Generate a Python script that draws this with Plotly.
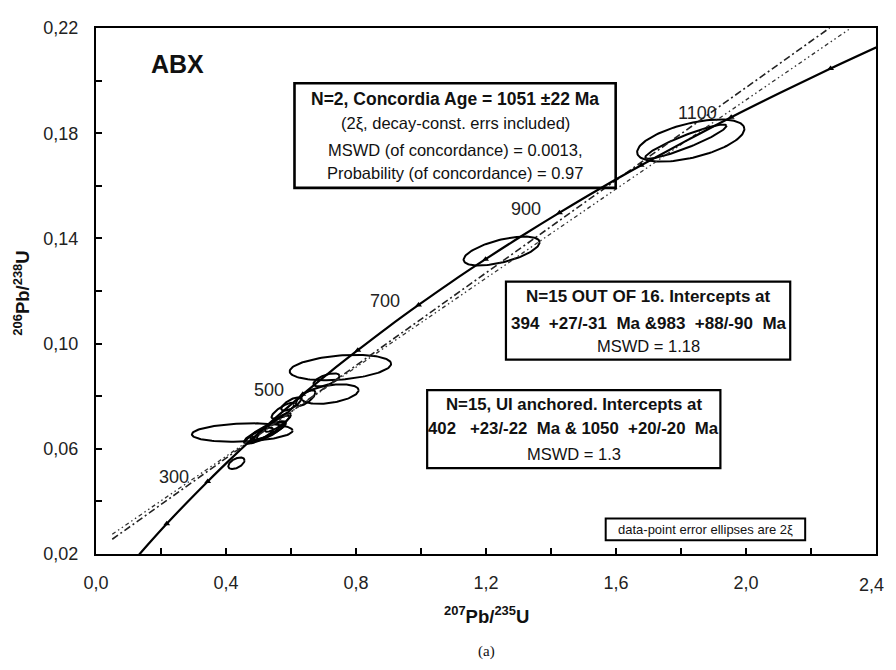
import numpy as np
import plotly.graph_objects as go

# ---------------- data ----------------
# Concordia curve (207Pb/235U, 206Pb/238U) at 50 Ma steps, 100..1250 Ma
conc_age = [100, 150, 200, 250, 300, 350, 400, 450, 500, 550, 600, 650,
            700, 750, 800, 850, 900, 950, 1000, 1050, 1100, 1150, 1200, 1250]
conc_x = [0.1035, 0.1592, 0.2177, 0.2792, 0.3437, 0.4116, 0.4828, 0.5577,
          0.6363, 0.7189, 0.8056, 0.8968, 0.9925, 1.0931, 1.1987, 1.3097,
          1.4263, 1.5488, 1.6774, 1.8126, 1.9545, 2.1037, 2.2603, 2.4249]
conc_y = [0.0156, 0.0235, 0.0315, 0.0395, 0.0476, 0.0558, 0.0640, 0.0723,
          0.0807, 0.0891, 0.0975, 0.1061, 0.1147, 0.1234, 0.1321, 0.1409,
          0.1498, 0.1588, 0.1678, 0.1769, 0.1861, 0.1953, 0.2046, 0.2140]

# Age tick marks on concordia (every 100 Ma)
tick_age = [200, 300, 400, 500, 600, 700, 800, 900, 1000, 1100, 1200]
tick_x = [0.2177, 0.3437, 0.4828, 0.6363, 0.8056, 0.9925, 1.1987, 1.4263, 1.6774, 1.9545, 2.2603]
tick_y = [0.0315, 0.0476, 0.0640, 0.0807, 0.0975, 0.1147, 0.1321, 0.1498, 0.1678, 0.1861, 0.2046]
label_ages = ["300", "500", "700", "900", "1100"]
label_x = [0.3437, 0.6363, 0.9925, 1.4263, 1.9545]
label_y = [0.0476, 0.0807, 0.1147, 0.1498, 0.1861]

# Discordia lines (end points)
discA_x = [0.05, 2.257]
discA_y = [0.0256, 0.2200]
discB_x = [0.05, 2.323]
discB_y = [0.0275, 0.2200]

# Data-point error ellipses: centre x, centre y, half-extent x, half-extent y, correlation
ell_cx = [1.830, 1.815, 1.248, 0.752, 0.709, 0.720, 0.645, 0.450, 0.432,
          0.520, 0.530, 0.545, 0.500, 0.560, 0.575, 0.600]
ell_cy = [0.1772, 0.1768, 0.1352, 0.0909, 0.0862, 0.0808, 0.0793, 0.0662, 0.0545,
          0.0660, 0.0670, 0.0682, 0.0650, 0.0700, 0.0745, 0.0770]
ell_sx = [0.165, 0.125, 0.117, 0.156, 0.040, 0.088, 0.030, 0.155, 0.025,
          0.060, 0.055, 0.050, 0.045, 0.040, 0.035, 0.030]
ell_sy = [0.0080, 0.0065, 0.0055, 0.0048, 0.0025, 0.0037, 0.0030, 0.0035, 0.0022,
          0.0040, 0.0035, 0.0045, 0.0030, 0.0035, 0.0030, 0.0025]
ell_rho = [0.55, 0.92, 0.60, 0.30, 0.60, 0.40, 0.70, 0.20, 0.50,
           0.85, 0.80, 0.90, 0.80, 0.85, 0.80, 0.70]

x_ticks = [0.0, 0.4, 0.8, 1.2, 1.6, 2.0, 2.4]
x_ticktext = ["0,0", "0,4", "0,8", "1,2", "1,6", "2,0", "2,4"]
y_ticks = [0.02, 0.06, 0.10, 0.14, 0.18, 0.22]

# ---------------- figure ----------------
FONT = "Liberation Sans, Arial, sans-serif"
OFF = 8                      # default body margin of the html page
W, H = 896 - 2 * OFF, 670 - 2 * OFF
X0W, X1W, Y0W, Y1W = 96, 878, 21, 554   # plot area in window pixels
L, T = X0W - OFF, Y0W - OFF
R, B = W - (X1W - OFF), H - (Y1W - OFF)
PW, PH = X1W - X0W, Y1W - Y0W


def px(xw):
    return (xw - X0W) / PW


def py(yw):
    return (Y1W - yw) / PH


fig = go.Figure()

# ellipses
th = np.linspace(0, 2 * np.pi, 120)
ex, ey = [], []
for cx, cy, sx, sy, r in zip(ell_cx, ell_cy, ell_sx, ell_sy, ell_rho):
    ex += list(cx + sx * np.cos(th)) + [None]
    ey += list(cy + sy * (r * np.cos(th) + np.sqrt(1 - r * r) * np.sin(th))) + [None]
fig.add_trace(go.Scatter(x=ex, y=ey, mode="lines",
                         line=dict(color="black", width=2), hoverinfo="skip"))

# discordia lines
fig.add_trace(go.Scatter(x=discA_x, y=discA_y, mode="lines",
                         line=dict(color="#222", width=1.6, dash="7px,3px,2px,3px")))
fig.add_trace(go.Scatter(x=discB_x, y=discB_y, mode="lines",
                         line=dict(color="#333", width=1.3, dash="4px,3px,1.5px,3px,1.5px,3px")))

# concordia
fig.add_trace(go.Scatter(x=conc_x, y=conc_y, mode="lines",
                         line=dict(color="black", width=2.2, shape="spline")))
fig.add_trace(go.Scatter(x=tick_x, y=tick_y, mode="markers",
                         marker=dict(symbol="triangle-up", size=6, color="black")))

annotations = []
for lab, lx, ly in zip(label_ages, label_x, label_y):
    annotations.append(dict(x=lx, y=ly, xref="x", yref="y", text=lab, showarrow=False,
                            xanchor="center", yanchor="middle", xshift=-34, yshift=4,
                            font=dict(family=FONT, size=18, color="#222")))


def txt(xw, yw, text, size=16.5, bold=False, family=FONT, anchor="center", color="#111"):
    return dict(x=px(xw), y=py(yw), xref="paper", yref="paper",
                text=("<b>%s</b>" % text) if bold else text, showarrow=False,
                xanchor=anchor, yanchor="middle",
                font=dict(family=family, size=size, color=color))


annotations += [
    txt(178, 57, "ABX", 25, True),
    txt(456, 93, "N=2, Concordia Age = 1051 ±22 Ma", 17.5, True),
    txt(456, 118, "(2ξ, decay-const. errs included)", 16.5),
    txt(456, 145, "MSWD (of concordance) = 0.0013,", 16.5),
    txt(456, 168, "Probability (of concordance) = 0.97", 16.5),
    txt(650, 293, "N=15 OUT OF 16. Intercepts at", 17, True),
    txt(650, 320, "394  +27/-31  Ma &amp;983  +88/-90  Ma", 17, True),
    txt(650, 343, "MSWD = 1.18", 16.5),
    txt(575, 403, "N=15, UI anchored. Intercepts at", 16.8, True),
    txt(575, 427, "402   +23/-22  Ma &amp; 1050  +20/-20  Ma", 16.8, True),
    txt(575, 453, "MSWD = 1.3", 16.5),
    txt(707, 529, "data-point error ellipses are 2ξ", 13),
    txt(488, 616, "<sup>207</sup>Pb/<sup>235</sup>U", 18.5, True),
    txt(488, 653, "(a)", 15, False, "Liberation Serif, Times New Roman, serif"),
    # last x tick label, kept inside the page edge
    txt(888, 585, x_ticktext[-1], 18, False, FONT, "right", "#222"),
]
annotations.append(dict(x=px(22), y=py(290), xref="paper", yref="paper",
                        text="<b><sup>206</sup>Pb/<sup>238</sup>U</b>", showarrow=False,
                        textangle=-90, xanchor="center", yanchor="middle",
                        font=dict(family=FONT, size=18.5, color="#111")))

shapes = []
for (x0, x1, y0, y1, lw) in [(295, 617, 77, 183, 2.6), (507, 792, 278, 357, 2.2),
                             (428, 722, 388, 467, 2.2), (607, 807, 518, 540, 2.0)]:
    shapes.append(dict(type="rect", xref="paper", yref="paper",
                       x0=px(x0), x1=px(x1), y0=py(y1), y1=py(y0),
                       line=dict(color="black", width=lw), fillcolor="rgba(255,255,255,0)"))

axis_common = dict(showline=True, linecolor="black", linewidth=2, mirror=True,
                   ticks="inside", ticklen=6, tickwidth=2, tickcolor="black",
                   showgrid=False, zeroline=False,
                   tickfont=dict(family=FONT, size=18, color="#222"))

fig.update_layout(
    width=W, height=H, margin=dict(l=L, r=R, t=T, b=B),
    paper_bgcolor="white", plot_bgcolor="white", showlegend=False,
    separators=",.",
    xaxis=dict(range=[0, 2.4], tickvals=x_ticks, ticktext=x_ticktext[:-1] + [""],
               minor=dict(tickvals=[0.2, 0.6, 1.0, 1.4, 1.8, 2.2], ticks="inside",
                          ticklen=6, tickwidth=2, tickcolor="black"),
               ticklabelstandoff=11, **axis_common),
    yaxis=dict(range=[0.02, 0.22], tickvals=y_ticks, tickformat=".2f",
               minor=dict(tickvals=[0.04, 0.08, 0.12, 0.16, 0.20], ticks="inside",
                          ticklen=6, tickwidth=2, tickcolor="black"),
               ticklabelstandoff=12, **axis_common),
    annotations=annotations, shapes=shapes,
)

fig.write_html("out.html")
